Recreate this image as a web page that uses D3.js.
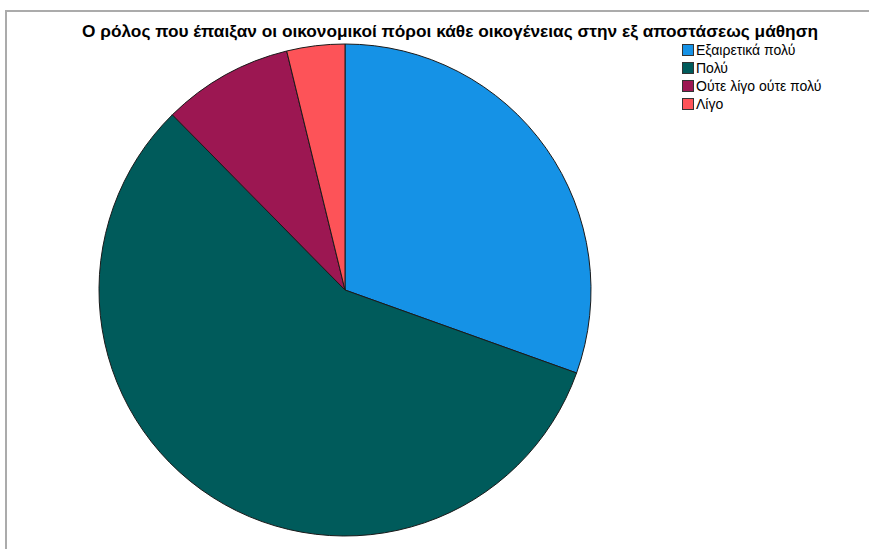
<!DOCTYPE html>
<html><head><meta charset="utf-8">
<script src="https://cdn.jsdelivr.net/npm/d3@7"></script>
<style>body{margin:0;background:#fff}svg{display:block}</style>
</head><body>
<svg id="c" width="869" height="549"></svg>
<script>
const title = "Ο ρόλος που έπαιξαν οι οικονομικοί πόροι κάθε οικογένειας στην εξ αποστάσεως μάθηση";
const categories = ["Εξαιρετικά πολύ", "Πολύ", "Ούτε λίγο ούτε πολύ", "Λίγο"];
const values = [32, 60, 9, 4];
const colors = ["#1592E6", "#005B5B", "#9C1752", "#FD5358"];

const svg = d3.select("#c");
// frame
svg.append("path").attr("d", "M6,549 L6,11 L869,11").attr("fill","none").attr("stroke","#ababab").attr("stroke-width",2);

svg.append("text").attr("x", 450).attr("y", 37).attr("text-anchor","middle")
  .attr("font-family","Liberation Sans, Arial, sans-serif").attr("font-weight","bold").attr("font-size",17)
  .attr("textLength",736).attr("lengthAdjust","spacingAndGlyphs")
  .attr("fill","#000").text(title);

const cx = 345, cy = 290, r = 246;
const pie = d3.pie().sort(null).value(d => d)(values);
const arc = d3.arc().innerRadius(0).outerRadius(r);
const g = svg.append("g").attr("transform", `translate(${cx},${cy})`);
g.selectAll("path").data(pie).join("path")
  .attr("d", arc).attr("fill", (d,i) => colors[i])
  .attr("stroke", "#1a1a1a").attr("stroke-width", 1).attr("stroke-linejoin","round");

const lg = svg.append("g").attr("transform","translate(682,44)");
const rows = lg.selectAll("g").data(categories).join("g").attr("transform",(d,i)=>`translate(0,${i*18})`);
rows.append("rect").attr("x",0.5).attr("y",0.5).attr("width",11).attr("height",11)
  .attr("fill",(d,i)=>colors[i]).attr("stroke","#333").attr("stroke-width",1);
rows.append("text").attr("x",14).attr("y",11)
  .attr("font-family","Liberation Sans, Arial, sans-serif").attr("font-size",14).attr("fill","#000").text(d=>d);
</script>
</body></html>
